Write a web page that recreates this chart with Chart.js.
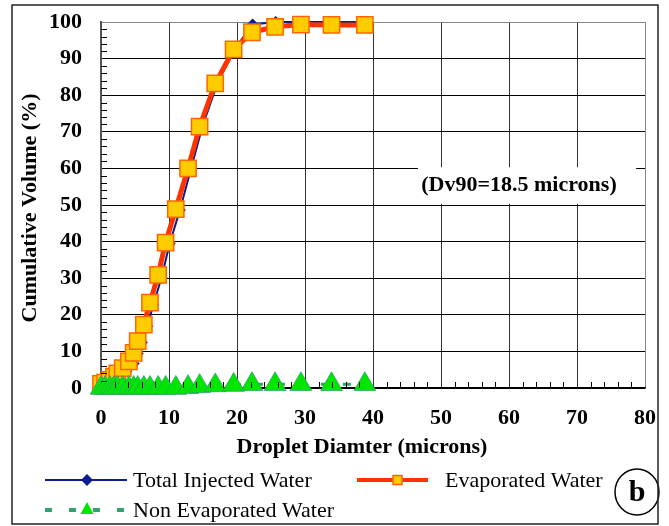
<!DOCTYPE html>
<html>
<head>
<meta charset="utf-8">
<script src="https://cdn.jsdelivr.net/npm/chart.js@4/dist/chart.umd.min.js"></script>
<style>
  html, body { margin: 0; padding: 0; background: #fff; }
  #wrap { width: 669px; height: 526px; position: relative; }
</style>
</head>
<body>
<div id="wrap"><canvas id="chart"></canvas></div>
<script>
// values
const diameters = [0, 0.6, 1.3, 1.9, 2.4, 3.2, 4.1, 4.8, 5.4, 6.3, 7.2, 8.4, 9.5, 11.0, 12.8, 14.5, 16.8, 19.5, 22.2, 25.6, 29.4, 33.9, 38.8];
const evaporated = [1.1, 1.5, 2.2, 3.1, 4.0, 5.4, 7.3, 9.6, 12.8, 17.3, 23.3, 30.9, 39.7, 48.9, 60.0, 71.4, 83.2, 92.5, 97.2, 98.7, 99.3, 99.2, 99.2];
const nonEvaporated = [0, 0, 0, 0, 0, 0, 0, 0, 0, 0, 0, 0, 0, 0, 0.2, 0.5, 0.7, 0.8, 1.0, 1.0, 1.0, 1.0, 1.0];

const totalDiameters = [0.2, 0.8, 1.5, 2.1, 2.8, 3.7, 4.8, 5.4, 6.0, 6.8, 7.7, 8.9, 10.1, 11.6, 13.2, 14.9, 17.2, 19.9, 22.3, 25.7, 29.7, 34.0, 39.0];
const totalInjected = [0.4, 1.0, 1.6, 2.4, 3.3, 4.6, 6.7, 9.4, 12.4, 16.9, 22.7, 30.2, 39.5, 48.6, 59.6, 71.4, 83.7, 93.2, 99.3, 100, 100, 100, 100];

const seriesNames = ['Total Injected Water', 'Evaporated Water', 'Non Evaporated Water'];
const xTitle = 'Droplet Diamter (microns)';
const yTitle = 'Cumulative Volume (%)';
const noteText = '(Dv90=18.5 microns)';
const panelLabel = 'b';

const NAVY = '#0c1c8c';
const RED = '#ff3300';
const GOLD = '#ffcc00';
const ORANGE = '#ff6600';
const GREEN = '#00e600';
const TEAL = '#33a070';
const SERIF = '"Liberation Serif", "Times New Roman", serif';

const pts = (xs, ys) => xs.map((x, i) => ({ x, y: ys[i] }));

const extras = {
  id: 'extras',
  afterDatasetsDraw(chart) {
    const { ctx, scales: { x, y } } = chart;
    // note box with white background
    const x0 = x.getPixelForValue(46.6), x1 = x.getPixelForValue(78.7);
    const y0 = y.getPixelForValue(60.3), y1 = y.getPixelForValue(50.3);
    ctx.save();
    ctx.fillStyle = '#fff';
    ctx.fillRect(x0, y0, x1 - x0, y1 - y0);
    ctx.fillStyle = '#000';
    ctx.font = 'bold 22px ' + SERIF;
    ctx.textAlign = 'center';
    ctx.textBaseline = 'middle';
    ctx.fillText(noteText, (x0 + x1) / 2 - 8, (y0 + y1) / 2);
    ctx.restore();
  },
  afterDraw(chart) {
    const { ctx, scales: { x, y }, chartArea: a } = chart;
    ctx.save();
    // minor ticks, inside
    ctx.strokeStyle = '#000';
    ctx.lineWidth = 1;
    ctx.beginPath();
    for (let v = 2; v < 100; v += 2) {
      if (v % 10 === 0) continue;
      const py = Math.round(y.getPixelForValue(v)) + 0.5;
      ctx.moveTo(a.left, py);
      ctx.lineTo(a.left + 6, py);
    }
    for (let v = 2; v < 80; v += 2) {
      if (v % 10 === 0) continue;
      const px = Math.round(x.getPixelForValue(v)) + 0.5;
      ctx.moveTo(px, a.bottom);
      ctx.lineTo(px, a.bottom - 6);
    }
    ctx.stroke();

    // axis titles
    ctx.fillStyle = '#000';
    ctx.font = 'bold 22px ' + SERIF;
    ctx.textAlign = 'center';
    ctx.textBaseline = 'middle';
    ctx.fillText(xTitle, 362, 447);
    ctx.save();
    ctx.translate(30, 208);
    ctx.rotate(-Math.PI / 2);
    ctx.fillText(yTitle, 0, 0);
    ctx.restore();

    // legend
    ctx.font = '22px ' + SERIF;
    ctx.textBaseline = 'middle';
    ctx.textAlign = 'left';
    const r1 = 480, r2 = 510;
    // total injected
    ctx.strokeStyle = NAVY;
    ctx.lineWidth = 2;
    ctx.beginPath(); ctx.moveTo(45, r1); ctx.lineTo(127, r1); ctx.stroke();
    ctx.fillStyle = NAVY;
    ctx.beginPath();
    ctx.moveTo(87, r1 - 6); ctx.lineTo(93, r1); ctx.lineTo(87, r1 + 6); ctx.lineTo(81, r1);
    ctx.closePath(); ctx.fill();
    ctx.fillStyle = '#000';
    ctx.fillText(seriesNames[0], 133, r1 + 1);
    // evaporated
    ctx.strokeStyle = RED;
    ctx.lineWidth = 4;
    ctx.beginPath(); ctx.moveTo(357, r1); ctx.lineTo(428, r1); ctx.stroke();
    ctx.fillStyle = GOLD;
    ctx.strokeStyle = ORANGE;
    ctx.lineWidth = 1.5;
    ctx.fillRect(393, r1 - 4.5, 9, 9);
    ctx.strokeRect(393, r1 - 4.5, 9, 9);
    ctx.fillStyle = '#000';
    ctx.fillText(seriesNames[1], 445, r1 + 1);
    // non evaporated
    ctx.strokeStyle = TEAL;
    ctx.lineWidth = 4;
    ctx.setLineDash([7, 17]);
    ctx.beginPath(); ctx.moveTo(45, r2); ctx.lineTo(127, r2); ctx.stroke();
    ctx.setLineDash([]);
    ctx.fillStyle = GREEN;
    ctx.beginPath();
    ctx.moveTo(87, r2 - 8); ctx.lineTo(93.5, r2 + 4); ctx.lineTo(80.5, r2 + 4);
    ctx.closePath(); ctx.fill();
    ctx.fillStyle = '#000';
    ctx.fillText(seriesNames[2], 133, r2 + 1);

    // panel label
    ctx.strokeStyle = '#000';
    ctx.lineWidth = 1.5;
    ctx.beginPath();
    ctx.ellipse(637, 492, 22, 23, 0, 0, Math.PI * 2);
    ctx.stroke();
    ctx.font = 'bold 30px ' + SERIF;
    ctx.textAlign = 'center';
    ctx.fillText(panelLabel, 637, 493);

    // outer frame
    ctx.strokeStyle = '#222';
    ctx.lineWidth = 1.5;
    ctx.strokeRect(12, 5, 646, 519);
    ctx.restore();
  }
};

new Chart(document.getElementById('chart'), {
  type: 'scatter',
  data: {
    datasets: [
      {
        label: seriesNames[0],
        data: pts(totalDiameters, totalInjected),
        showLine: true,
        borderColor: NAVY,
        backgroundColor: NAVY,
        borderWidth: 2,
        pointStyle: 'rectRot',
        pointRadius: 6,
        pointBorderWidth: 0,
        order: 3,
        clip: false,
      },
      {
        label: seriesNames[1],
        data: pts(diameters, evaporated),
        showLine: true,
        borderColor: RED,
        backgroundColor: GOLD,
        borderWidth: 5,
        pointStyle: 'rect',
        pointRadius: 11.5,
        pointBorderColor: ORANGE,
        pointBorderWidth: 1.5,
        order: 2,
        clip: false,
      },
      {
        label: seriesNames[2],
        data: pts(diameters, nonEvaporated),
        showLine: true,
        borderColor: TEAL,
        backgroundColor: GREEN,
        borderWidth: 3,
        borderDash: [8, 14],
        pointStyle: 'triangle',
        pointRadius: 12.5,
        pointBorderColor: TEAL,
        pointBorderWidth: 0.8,
        order: 1,
        clip: false,
      },
    ],
  },
  options: {
    animation: false,
    responsive: true,
    maintainAspectRatio: false,
    layout: { autoPadding: false, padding: { left: 12, right: 24, top: 22, bottom: 68 } },
    plugins: {
      legend: { display: false },
      tooltip: { enabled: false },
    },
    scales: {
      x: {
        type: 'linear',
        min: 0,
        max: 80,
        ticks: {
          stepSize: 10,
          color: '#000',
          padding: 17,
          font: { family: SERIF, size: 22, weight: 'bold' },
        },
        grid: {
          drawTicks: false,
          color: (c) => (c.tick && c.tick.value === 80 ? '#888' : '#333'),
        },
        border: { color: '#000', width: 1.5 },
        afterFit: (s) => {
          s.height = 70;
          s.paddingLeft = 0; s.paddingRight = 0; s.paddingTop = 0; s.paddingBottom = 0;
        },
      },
      y: {
        type: 'linear',
        min: 0,
        max: 100,
        ticks: {
          stepSize: 10,
          color: '#000',
          padding: 19,
          font: { family: SERIF, size: 22, weight: 'bold' },
        },
        grid: {
          drawTicks: false,
          color: (c) => (c.tick && c.tick.value === 100 ? '#888' : '#000'),
        },
        border: { color: '#555', width: 2 },
        afterFit: (s) => {
          s.width = 89;
          s.paddingLeft = 0; s.paddingRight = 0; s.paddingTop = 0; s.paddingBottom = 0;
        },
      },
    },
  },
  plugins: [extras],
});
</script>
</body>
</html>
